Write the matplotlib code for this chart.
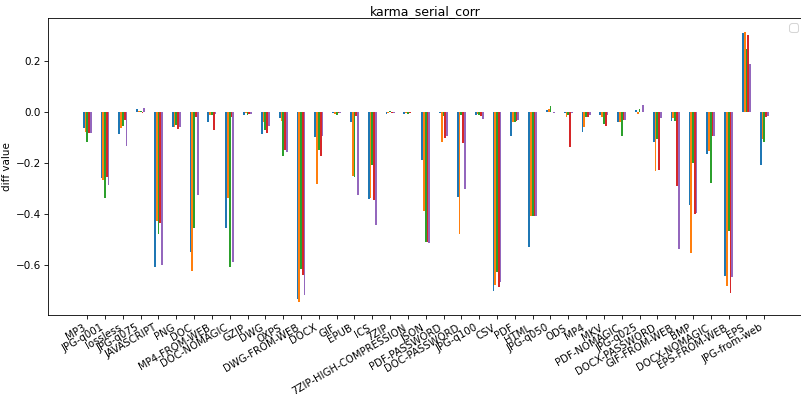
import numpy as np
import matplotlib
matplotlib.use("Agg")
import matplotlib.pyplot as plt

# file types on the x axis
categories = [
    "MP3", "JPG-q001", "lossless", "JPG-q075", "JAVASCRIPT", "PNG", "DOC",
    "MP4-FROM-WEB", "DOC-NOMAGIC", "GZIP", "DWG", "OXPS", "DWG-FROM-WEB",
    "DOCX", "GIF", "EPUB", "ICS", "7ZIP", "7ZIP-HIGH-COMPRESSION", "JSON",
    "PDF-PASSWORD", "DOC-PASSWORD", "JPG-q100", "CSV", "PDF", "HTML",
    "JPG-q050", "ODS", "MP4", "MKV", "PDF-NOMAGIC", "JPG-q025",
    "DOCX-PASSWORD", "GIF-FROM-WEB", "BMP", "DOCX-NOMAGIC", "EPS-FROM-WEB",
    "EPS", "JPG-from-web",
]

# diff values, one list per series
s0 = [-0.064, -0.258, -0.086, 0.010, -0.607, -0.059, -0.550, -0.041, -0.455,
      -0.012, -0.088, -0.025, -0.733, -0.100, -0.004, -0.041, -0.343, -0.010,
      -0.007, -0.188, -0.004, -0.334, -0.014, -0.703, -0.096, -0.532, 0.007,
      -0.004, -0.078, -0.012, -0.041, 0.007, -0.120, -0.037, -0.364, -0.166,
      -0.642, 0.308, -0.210]
s1 = [-0.080, -0.268, -0.063, 0.005, -0.429, -0.058, -0.626, -0.012, -0.337,
      -0.004, -0.041, -0.037, -0.745, -0.284, -0.007, -0.251, -0.339, -0.004,
      -0.004, -0.389, -0.117, -0.478, -0.007, -0.679, -0.041, -0.410, 0.012,
      -0.020, -0.061, -0.022, -0.041, -0.009, -0.234, -0.025, -0.555, -0.153,
      -0.683, 0.314, -0.108]
s2 = [-0.120, -0.337, -0.057, 0.002, -0.479, -0.051, -0.455, -0.014, -0.607,
      -0.014, -0.072, -0.172, -0.617, -0.149, -0.014, -0.255, -0.208, 0.004,
      -0.010, -0.510, -0.017, -0.012, -0.012, -0.630, -0.041, -0.410, 0.022,
      -0.014, -0.020, -0.049, -0.096, 0.012, -0.107, -0.037, -0.200, -0.278,
      -0.466, 0.247, -0.117]
s3 = [-0.083, -0.254, -0.033, -0.003, -0.436, -0.068, -0.020, -0.070, -0.022,
      -0.007, -0.083, -0.151, -0.641, -0.172, -0.005, -0.018, -0.346, -0.005,
      -0.003, -0.512, -0.104, -0.122, -0.017, -0.686, -0.036, -0.410, 0.000,
      -0.138, -0.020, -0.057, -0.034, 0.000, -0.228, -0.291, -0.400, -0.096,
      -0.709, 0.300, -0.020]
s4 = [-0.083, -0.286, -0.136, 0.014, -0.600, -0.059, -0.328, -0.007, -0.588,
      -0.007, -0.057, -0.159, -0.718, -0.093, -0.004, -0.326, -0.445, -0.004,
      -0.001, -0.514, -0.093, -0.304, -0.028, -0.666, -0.033, -0.410, -0.003,
      -0.004, -0.012, -0.012, -0.034, 0.025, -0.025, -0.537, -0.396, -0.093,
      -0.649, 0.187, -0.017]

series = [s0, s1, s2, s3, s4]

# default font sizes, drawn at a low dpi so everything comes out small
fig = plt.figure(figsize=(10.68, 5.2667), dpi=75)
ax = fig.add_axes([0.0605, 0.2018, 0.942, 0.752])

x = np.arange(len(categories))
w = 0.1
for k, vals in enumerate(series):
    ax.bar(x + (k - 2) * w, vals, width=w)

ax.set_xticks(x)
ax.set_xticklabels(categories, rotation=30, ha='right', fontsize=9.7)
ax.set_ylabel('diff value')
ax.set_title('karma_serial_corr', pad=3)
ax.legend(handles=[], loc='upper right')

fig.savefig('out.png', dpi=75)
